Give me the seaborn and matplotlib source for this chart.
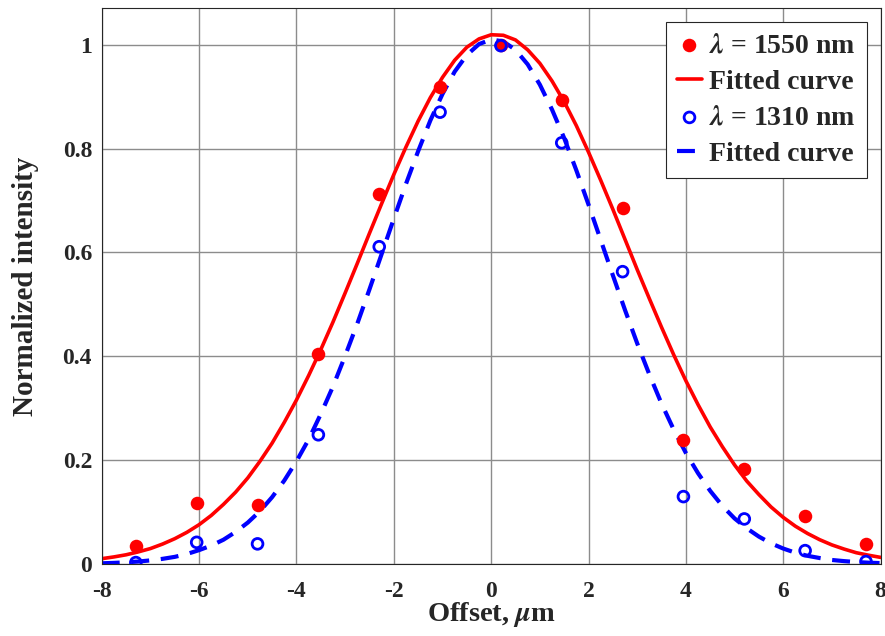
#!/usr/bin/env python3
# coding=utf-8

from matplotlib import pyplot as plt
from matplotlib.ticker import FuncFormatter
import pandas as pd
import seaborn as sns

# measured points (offset in um)
offset_pts = [-7.3, -6.05, -4.8, -3.55, -2.3, -1.05, 0.2, 1.45, 2.7, 3.95, 5.2, 6.45, 7.7]
int_1550 = [0.034, 0.118, 0.114, 0.405, 0.713, 0.918, 1.0, 0.894, 0.685, 0.238, 0.183, 0.092, 0.039]
int_1310 = [0.003, 0.042, 0.039, 0.249, 0.611, 0.870, 0.998, 0.811, 0.563, 0.130, 0.087, 0.026, 0.005]

# fitted curves, every 0.25 um
offset_fit = [-8, -7.75, -7.5, -7.25, -7, -6.75, -6.5, -6.25, -6, -5.75, -5.5, -5.25,
              -5, -4.75, -4.5, -4.25, -4, -3.75, -3.5, -3.25, -3, -2.75, -2.5, -2.25,
              -2, -1.75, -1.5, -1.25, -1, -0.75, -0.5, -0.25, 0, 0.25, 0.5, 0.75,
              1, 1.25, 1.5, 1.75, 2, 2.25, 2.5, 2.75, 3, 3.25, 3.5, 3.75,
              4, 4.25, 4.5, 4.75, 5, 5.25, 5.5, 5.75, 6, 6.25, 6.5, 6.75,
              7, 7.25, 7.5, 7.75, 8]
fit_1550 = [0.0105, 0.0139, 0.018, 0.0236, 0.030, 0.0387, 0.049, 0.0613, 0.076, 0.0938, 0.115, 0.1386,
            0.166, 0.198, 0.233, 0.273, 0.316, 0.363, 0.413, 0.466, 0.522, 0.579, 0.637, 0.694,
            0.750, 0.803, 0.853, 0.898, 0.937, 0.970, 0.995, 1.011, 1.019, 1.018, 1.009, 0.990,
            0.964, 0.930, 0.890, 0.844, 0.793, 0.739, 0.683, 0.625, 0.567, 0.511, 0.456, 0.403,
            0.353, 0.307, 0.264, 0.226, 0.191, 0.160, 0.134, 0.110, 0.090, 0.073, 0.059, 0.047,
            0.037, 0.029, 0.022, 0.0172, 0.013]
fit_1310 = [0.0016, 0.0024, 0.0035, 0.0050, 0.0072, 0.0102, 0.014, 0.0195, 0.027, 0.0357, 0.047, 0.062,
            0.080, 0.102, 0.129, 0.161, 0.198, 0.240, 0.289, 0.342, 0.401, 0.463, 0.529, 0.597,
            0.665, 0.732, 0.795, 0.854, 0.905, 0.948, 0.980, 1.001, 1.010, 1.006, 0.990, 0.962,
            0.923, 0.875, 0.820, 0.758, 0.692, 0.624, 0.556, 0.489, 0.425, 0.365, 0.309, 0.259,
            0.214, 0.175, 0.141, 0.112, 0.088, 0.069, 0.053, 0.040, 0.030, 0.022, 0.016, 0.0117,
            0.008, 0.0058, 0.004, 0.0028, 0.002]

RED = "#ff0000"
BLUE = "#0000ff"

sns.set_style("whitegrid")
plt.rcParams["font.family"] = ["Liberation Serif", "DejaVu Serif"]
plt.rcParams["font.weight"] = "bold"
plt.rcParams["mathtext.fontset"] = "stix"
plt.rcParams["axes.unicode_minus"] = False

pts = pd.DataFrame({"x": offset_pts, "a": int_1550, "b": int_1310})
fit = pd.DataFrame({"x": offset_fit, "a": fit_1550, "b": fit_1310})

fig = plt.figure(figsize=(8.85, 6.36), dpi=100)
ax = fig.add_axes([0.115, 0.113, 0.880, 0.874])

sns.scatterplot(data=pts, x="x", y="a", ax=ax, color=RED, s=95, edgecolor=RED,
                linewidth=0, label=r"$\lambda$ = 1550 nm", zorder=3)
sns.lineplot(data=fit, x="x", y="a", ax=ax, color=RED, linewidth=2.6,
             label="Fitted curve", zorder=2)
sns.scatterplot(data=pts, x="x", y="b", ax=ax, facecolor="none", edgecolor=BLUE,
                s=60, linewidth=2, label=r"$\lambda$ = 1310 nm", zorder=3)
sns.lineplot(data=fit, x="x", y="b", ax=ax, color=BLUE, linewidth=3,
             linestyle=(0, (4.3, 2.8)), label="Fitted curve", zorder=2)

ax.set_xlim(-8, 8)
ax.set_ylim(0, 1.07)
ax.set_xticks(range(-8, 9, 2))
ax.set_yticks([0, 0.2, 0.4, 0.6, 0.8, 1.0])
ax.yaxis.set_major_formatter(FuncFormatter(lambda v, p: f"{v:g}"))
ax.tick_params(labelsize=17, direction="in", length=5, colors="#262626", width=0.8)
ax.tick_params(axis="x", pad=12)
ax.tick_params(axis="y", pad=7)
for lab in ax.get_xticklabels() + ax.get_yticklabels():
    lab.set_fontweight("bold")

ax.grid(True, color="#8c8c8c", linewidth=1)
for sp in ax.spines.values():
    sp.set_visible(True)
    sp.set_color("#262626")
    sp.set_linewidth(0.8)

ax.set_xlabel(r"Offset, $\mu$m", fontsize=20.5, fontweight="bold", labelpad=-1)
ax.set_ylabel("Normalized intensity", fontsize=21, fontweight="bold", labelpad=17)

leg = ax.legend(loc="upper right", fontsize=20, frameon=True, fancybox=False,
                edgecolor="#262626", framealpha=1, handlelength=0.9, handletextpad=0.25,
                borderpad=0.4, labelspacing=0.38, borderaxespad=0.5)
leg.get_frame().set_linewidth(0.8)
for t in leg.get_texts():
    t.set_fontweight("bold")

fig.savefig("out.png", dpi=100)
